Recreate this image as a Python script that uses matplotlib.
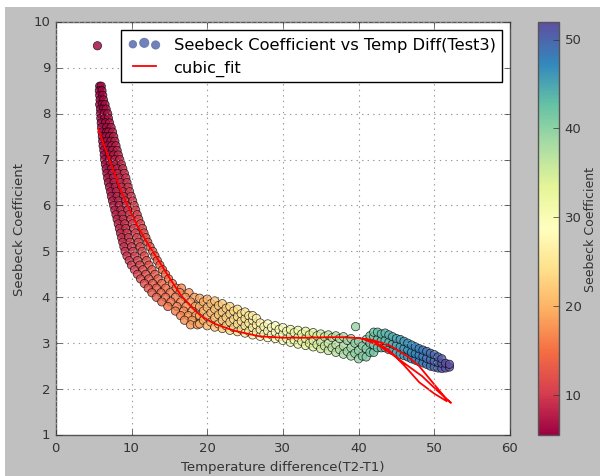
import matplotlib
matplotlib.use('Agg')
import matplotlib.pyplot as plt
import numpy as np

plt.style.use('classic')

# steep part of the band: y level -> x values
steep_rows = {
    8.6: [5.8, 6.0],
    8.5: [5.75, 6.1],
    8.4: [5.8, 6.2],
    8.3: [5.85, 6.3],
    8.2: [5.8, 6.15, 6.5],
    8.1: [5.9, 6.3, 6.65],
    8.0: [5.9, 6.4, 6.85],
    7.9: [5.95, 6.45, 6.95],
    7.8: [6.0, 6.55, 7.1],
    7.7: [6.05, 6.7, 7.3],
    7.6: [6.1, 6.7, 7.0, 7.5],
    7.5: [6.15, 6.6, 7.1, 7.65],
    7.4: [6.2, 6.75, 7.3, 7.8],
    7.3: [6.25, 6.85, 7.4, 7.95],
    7.2: [6.35, 6.9, 7.5, 8.1],
    7.1: [6.4, 7.05, 7.65, 8.25],
    7.0: [6.45, 7.1, 7.8, 8.45],
    6.9: [6.55, 7.2, 7.9, 8.65],
    6.8: [6.65, 7.35, 8.1, 8.85],
    6.7: [6.75, 7.45, 8.2, 9.05],
    6.6: [6.85, 7.6, 8.4, 9.25],
    6.5: [6.95, 7.7, 8.55, 9.4],
    6.4: [7.1, 7.85, 8.7, 9.55],
    6.3: [7.25, 8.0, 8.9, 9.75],
    6.2: [7.35, 8.1, 8.95, 9.95],
    6.1: [7.5, 8.3, 9.2, 10.15],
    6.0: [7.65, 8.4, 9.3, 10.35],
    5.9: [7.8, 8.6, 9.5, 10.55],
    5.8: [7.95, 8.75, 9.7, 10.75],
    5.7: [8.1, 8.9, 9.9, 10.95],
    5.6: [8.25, 9.1, 10.1, 11.2],
    5.5: [8.4, 9.25, 10.3, 11.45],
    5.4: [8.55, 9.4, 10.5, 11.65],
    5.3: [8.7, 9.6, 10.7, 11.9],
    5.2: [8.85, 9.8, 10.9, 12.15],
    5.1: [9.0, 10.0, 11.15, 12.45],
    5.0: [9.15, 10.2, 11.4, 12.8],
    4.9: [9.4, 10.45, 11.7, 13.1],
    4.8: [9.7, 10.8, 12.0, 13.4],
    4.7: [10.0, 11.1, 12.3, 13.75],
    4.6: [10.4, 11.5, 12.7, 14.1],
    4.5: [10.8, 11.9, 13.1, 14.5],
    4.4: [11.2, 12.3, 13.5, 14.9],
    4.3: [11.7, 12.8, 14.0, 15.4],
    4.2: [12.2, 13.3, 14.5, 15.9, 16.6],
    4.1: [12.7, 13.9, 15.1, 16.4, 17.6],
    4.0: [13.3, 14.5, 15.8, 17.1, 18.3],
    3.9: [14.0, 15.2, 16.5, 17.8],
    3.8: [14.8, 16.0, 17.2, 18.4],
    3.7: [15.8, 16.9, 18.0],
    3.6: [16.5, 17.5, 18.5],
    3.5: [17.0, 18.0],
    3.4: [17.8, 18.7],
}

# flatter part of the band: x -> y values
flat_cols = {
    19.0: [3.42, 3.60, 3.80, 3.98],
    19.5: [3.50, 3.70, 3.90],
    20.0: [3.38, 3.58, 3.78, 3.96],
    20.5: [3.46, 3.66, 3.86],
    21.0: [3.35, 3.55, 3.74, 3.92],
    21.5: [3.42, 3.62, 3.82],
    22.0: [3.32, 3.50, 3.68, 3.86],
    22.5: [3.38, 3.56, 3.76],
    23.0: [3.28, 3.46, 3.64, 3.80],
    23.5: [3.34, 3.52, 3.70],
    24.0: [3.25, 3.42, 3.58, 3.74],
    24.5: [3.30, 3.48, 3.64],
    25.0: [3.22, 3.38, 3.54, 3.68],
    25.5: [3.26, 3.44, 3.60],
    26.0: [3.18, 3.34, 3.50, 3.60],
    26.5: [3.24, 3.40, 3.54],
    27.0: [3.15, 3.30, 3.44],
    27.5: [3.20, 3.36],
    28.0: [3.12, 3.27, 3.42],
    28.5: [3.18, 3.34],
    29.0: [3.10, 3.24, 3.38],
    29.5: [3.14, 3.30],
    30.0: [3.06, 3.20, 3.34],
    30.5: [3.10, 3.26],
    31.0: [3.02, 3.16, 3.30],
    31.5: [3.07, 3.23],
    32.0: [2.98, 3.13, 3.28],
    32.5: [3.04, 3.20],
    33.0: [2.95, 3.10, 3.26],
    33.5: [3.00, 3.18],
    34.0: [2.92, 3.06, 3.23],
    34.5: [2.97, 3.16],
    35.0: [2.88, 3.03, 3.20],
    35.5: [2.94, 3.14],
    36.0: [2.84, 3.00, 3.18],
    36.5: [2.90, 3.12],
    37.0: [2.80, 2.97, 3.16],
    37.5: [2.86, 3.10],
    38.0: [2.76, 2.94, 3.14],
    38.5: [2.82, 3.06],
    39.0: [2.72, 2.90, 3.10],
    39.5: [2.78, 3.00],
    39.6: [3.36],
    40.0: [2.66, 2.84, 3.04],
    40.5: [2.72, 2.94],
    41.0: [2.70, 2.88, 3.08],
    41.5: [2.80, 3.00, 3.16],
    42.0: [2.80, 2.96, 3.14, 3.24],
    42.5: [2.90, 3.08, 3.24],
    43.0: [2.90, 3.05, 3.20],
    43.5: [2.90, 3.06, 3.22],
    44.0: [2.86, 3.02, 3.18],
    44.5: [2.84, 2.98, 3.14],
    45.0: [2.80, 2.95, 3.10],
    45.5: [2.76, 2.92, 3.08],
    46.0: [2.73, 2.88, 3.04],
    46.5: [2.70, 2.85, 3.00],
    47.0: [2.66, 2.80, 2.96],
    47.5: [2.63, 2.77, 2.92],
    48.0: [2.60, 2.74, 2.88],
    48.5: [2.57, 2.71, 2.85],
    49.0: [2.54, 2.67, 2.82],
    49.5: [2.50, 2.64, 2.78],
    50.0: [2.48, 2.61, 2.75],
    50.5: [2.46, 2.58, 2.70],
    51.0: [2.45, 2.56, 2.66],
    51.5: [2.46, 2.56],
    52.0: [2.48, 2.54],
}

outlier_x = [5.5]
outlier_y = [9.48]

# cubic fit curve as drawn (unsorted x makes it retrace near the end)
fit_x = [5.6, 6.4, 7.2, 8.5, 9.9, 10.8, 12.2, 13.9, 14.9, 16.5, 18.0, 19.2, 21.0,
         23.6, 26.9, 29.9, 33.0, 36.0, 38.0, 40.0, 42.0, 44.0, 46.4, 48.0, 49.4,
         50.5, 51.6, 52.2,
         50.3, 48.4, 46.4, 44.5, 42.5, 40.5,
         42.0, 44.0, 46.0, 48.0, 50.0, 51.6]
fit_y = [7.67, 7.30, 6.95, 6.36, 5.86, 5.55, 5.15, 4.72, 4.45, 4.05, 3.78, 3.59, 3.42,
         3.27, 3.15, 3.12, 3.12, 3.13, 3.13, 3.11, 3.06, 2.96, 2.72, 2.50, 2.22,
         2.00, 1.78, 1.70,
         1.98, 2.28, 2.52, 2.75, 2.96, 3.10,
         3.05, 2.85, 2.52, 2.15, 1.90, 1.74]

xs, ys = [], []
for yv, xl in steep_rows.items():
    for xv in xl:
        xs.append(xv)
        ys.append(yv)
for xv, yl in flat_cols.items():
    for yv in yl:
        xs.append(xv)
        ys.append(yv)
xs = np.array(xs + outlier_x)
ys = np.array(ys + outlier_y)

fig = plt.figure(figsize=(6, 4.77), dpi=100, facecolor='white')
fig.patches.append(plt.Rectangle((0.008, 0.0), 0.992, 0.984, transform=fig.transFigure,
                                 facecolor='#c0c0c0', edgecolor='none', zorder=-10))
ax = fig.add_axes([0.093, 0.086, 0.757, 0.866])
cax = fig.add_axes([0.897, 0.086, 0.035, 0.866])

sc = ax.scatter(xs, ys, c=xs, cmap='Spectral', s=36, alpha=0.8,
                edgecolors='k', linewidths=0.5,
                label='Seebeck Coefficient vs Temp Diff(Test3)')
ax.plot(fit_x, fit_y, color='r', lw=1.3, label='cubic_fit')

ax.set_xlim(0, 60)
ax.set_ylim(1, 10)
ax.grid(True, color='0.6', linestyle=':', linewidth=0.8)
ax.tick_params(labelsize=9.5, colors='#333333')
ax.set_xlabel('Temperature difference(T2-T1)', fontsize=9.5, color='#333333')
ax.set_ylabel('Seebeck Coefficient', fontsize=9.5, color='#333333')
for sp in ax.spines.values():
    sp.set_color('#555555')

leg = ax.legend(loc='upper right', fontsize=11.7, scatterpoints=3,
                borderaxespad=0.5, handlelength=2.0, fancybox=False)
dots = leg.legend_handles[0]
dots.set_array(None)
dots.set_facecolor('#4f63a8')
dots.set_edgecolor('#4f63a8')
dots.set_sizes([30, 45, 36])

cb = fig.colorbar(sc, cax=cax)
cb.solids.set_alpha(1.0)
cb.set_ticks([10, 20, 30, 40, 50])
cb.ax.tick_params(labelsize=9.5, colors='#333333')
cb.set_label('Seebeck Coefficient', fontsize=9, color='#333333', labelpad=2)
cb.outline.set_edgecolor('#555555')

fig.savefig('out.png', dpi=100, facecolor=fig.get_facecolor())
